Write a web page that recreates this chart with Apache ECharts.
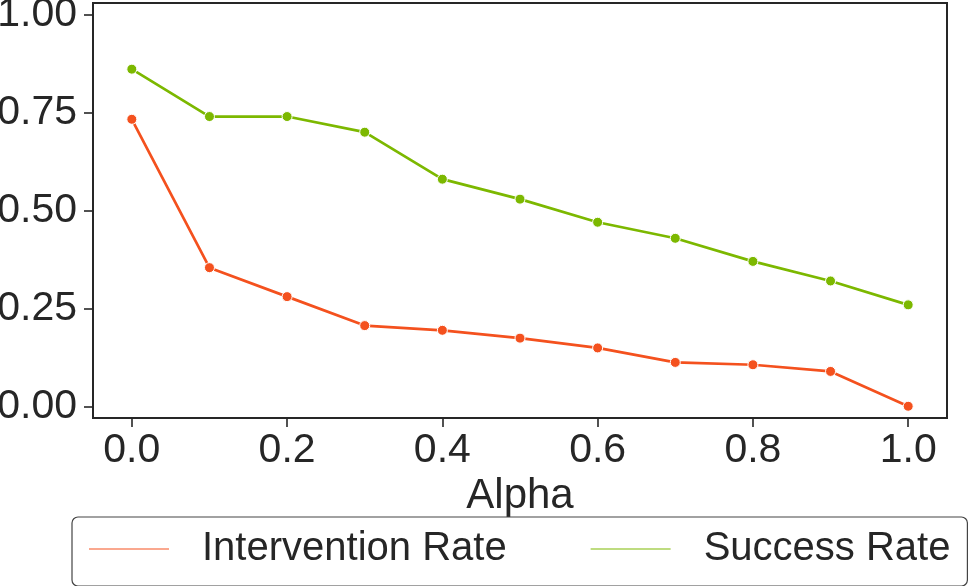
<!DOCTYPE html>
<html>
<head>
<meta charset="utf-8">
<script src="https://cdn.jsdelivr.net/npm/echarts@6/dist/echarts.min.js"></script>
<style>
  html, body { margin: 0; padding: 0; background: #fff; }
  #chart { width: 968px; height: 586px; }
</style>
</head>
<body>
<div id="chart"></div>
<script>
const alphas = [0.0, 0.1, 0.2, 0.3, 0.4, 0.5, 0.6, 0.7, 0.8, 0.9, 1.0];
const interventionRate = [0.733, 0.354, 0.280, 0.206, 0.194, 0.174, 0.149, 0.112, 0.106, 0.089, 0.0];
const successRate = [0.861, 0.740, 0.740, 0.700, 0.580, 0.529, 0.470, 0.429, 0.370, 0.320, 0.259];
const xTicks = [0.0, 0.2, 0.4, 0.6, 0.8, 1.0];
const yTicks = [0.0, 0.25, 0.5, 0.75, 1.0];

const ink = '#262626';
const font = 'Liberation Sans, Arial, sans-serif';

function series(name, values, color) {
    return {
        type: 'line',
        name: name,
        data: alphas.map((a, i) => [a, values[i]]),
        symbol: 'circle',
        symbolSize: 10,
        lineStyle: { color: color, width: 2.7 },
        itemStyle: { color: color, borderColor: '#fff', borderWidth: 1 },
        emphasis: { disabled: true }
    };
}

echarts.init(document.getElementById('chart'))
    .setOption({
        animation: false,
        textStyle: { fontFamily: font, color: ink },
        grid: {
            left: 93, right: 21, top: 3, bottom: 168,
            outerBoundsMode: 'none',
            containLabel: false,
            show: true, borderColor: ink, borderWidth: 2,
            backgroundColor: 'transparent'
        },
        xAxis: {
            type: 'value',
            min: -0.05,
            max: 1.05,
            name: 'Alpha',
            nameLocation: 'middle',
            nameGap: 54,
            nameTextStyle: { fontSize: 42, color: ink, fontFamily: font },
            axisLine: { show: false, onZero: false },
            axisTick: { show: true, length: 9, lineStyle: { color: ink, width: 1.6 }, customValues: xTicks },
            axisLabel: {
                fontSize: 41, color: ink, margin: 12,
                customValues: xTicks,
                formatter: v => v.toFixed(1)
            },
            splitLine: { show: false }
        },
        yAxis: {
            type: 'value',
            min: -0.03,
            max: 1.03,
            axisLine: { show: false, onZero: false },
            axisTick: { show: true, length: 9, lineStyle: { color: ink, width: 1.6 }, customValues: yTicks },
            axisLabel: {
                fontSize: 41, color: ink, margin: 16,
                customValues: yTicks,
                formatter: v => v.toFixed(2)
            },
            splitLine: { show: false }
        },
        legend: {
            left: 72,
            top: 517,
            orient: 'horizontal',
            icon: 'rect',
            itemWidth: 82,
            itemHeight: 3,
            itemGap: 82,
            padding: [12, 17, 17, 15],
            borderColor: '#444',
            borderWidth: 1.2,
            borderRadius: 6,
            textStyle: { fontSize: 40, color: ink, fontFamily: font, padding: [0, 0, 0, 27] },
            data: ['Intervention Rate', 'Success Rate']
        },
        series: [
            series('Intervention Rate', interventionRate, '#f4511e'),
            series('Success Rate', successRate, '#7cb800')
        ]
    });
</script>
</body>
</html>
